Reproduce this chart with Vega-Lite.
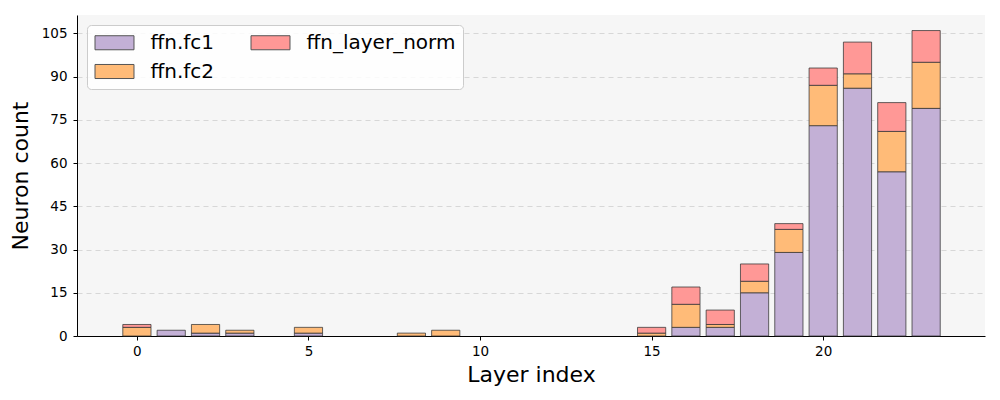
{
  "$schema": "https://vega.github.io/schema/vega-lite/v6.json",
  "autosize": {"type": "none"},
  "width": 908,
  "height": 321,
  "padding": {"left": 77, "top": 15, "right": 15, "bottom": 64},
  "background": "white",
  "config": {
    "font": "DejaVu Sans",
    "view": {"fill": "#f6f6f6", "stroke": null}
  },
  "data": {
    "values": [
      {"layer": 0, "module": "ffn.fc1", "count": 0},
      {"layer": 0, "module": "ffn.fc2", "count": 3},
      {"layer": 0, "module": "ffn_layer_norm", "count": 1},
      {"layer": 1, "module": "ffn.fc1", "count": 2},
      {"layer": 1, "module": "ffn.fc2", "count": 0},
      {"layer": 1, "module": "ffn_layer_norm", "count": 0},
      {"layer": 2, "module": "ffn.fc1", "count": 1},
      {"layer": 2, "module": "ffn.fc2", "count": 3},
      {"layer": 2, "module": "ffn_layer_norm", "count": 0},
      {"layer": 3, "module": "ffn.fc1", "count": 1},
      {"layer": 3, "module": "ffn.fc2", "count": 1},
      {"layer": 3, "module": "ffn_layer_norm", "count": 0},
      {"layer": 5, "module": "ffn.fc1", "count": 1},
      {"layer": 5, "module": "ffn.fc2", "count": 2},
      {"layer": 5, "module": "ffn_layer_norm", "count": 0},
      {"layer": 8, "module": "ffn.fc1", "count": 0},
      {"layer": 8, "module": "ffn.fc2", "count": 1},
      {"layer": 8, "module": "ffn_layer_norm", "count": 0},
      {"layer": 9, "module": "ffn.fc1", "count": 0},
      {"layer": 9, "module": "ffn.fc2", "count": 2},
      {"layer": 9, "module": "ffn_layer_norm", "count": 0},
      {"layer": 15, "module": "ffn.fc1", "count": 0},
      {"layer": 15, "module": "ffn.fc2", "count": 1},
      {"layer": 15, "module": "ffn_layer_norm", "count": 2},
      {"layer": 16, "module": "ffn.fc1", "count": 3},
      {"layer": 16, "module": "ffn.fc2", "count": 8},
      {"layer": 16, "module": "ffn_layer_norm", "count": 6},
      {"layer": 17, "module": "ffn.fc1", "count": 3},
      {"layer": 17, "module": "ffn.fc2", "count": 1},
      {"layer": 17, "module": "ffn_layer_norm", "count": 5},
      {"layer": 18, "module": "ffn.fc1", "count": 15},
      {"layer": 18, "module": "ffn.fc2", "count": 4},
      {"layer": 18, "module": "ffn_layer_norm", "count": 6},
      {"layer": 19, "module": "ffn.fc1", "count": 29},
      {"layer": 19, "module": "ffn.fc2", "count": 8},
      {"layer": 19, "module": "ffn_layer_norm", "count": 2},
      {"layer": 20, "module": "ffn.fc1", "count": 73},
      {"layer": 20, "module": "ffn.fc2", "count": 14},
      {"layer": 20, "module": "ffn_layer_norm", "count": 6},
      {"layer": 21, "module": "ffn.fc1", "count": 86},
      {"layer": 21, "module": "ffn.fc2", "count": 5},
      {"layer": 21, "module": "ffn_layer_norm", "count": 11},
      {"layer": 22, "module": "ffn.fc1", "count": 57},
      {"layer": 22, "module": "ffn.fc2", "count": 14},
      {"layer": 22, "module": "ffn_layer_norm", "count": 10},
      {"layer": 23, "module": "ffn.fc1", "count": 79},
      {"layer": 23, "module": "ffn.fc2", "count": 16},
      {"layer": 23, "module": "ffn_layer_norm", "count": 11}
    ]
  },
  "transform": [{"filter": "datum.count > 0"}],
  "mark": {"type": "bar", "size": 28.2, "stroke": "#333333", "strokeOpacity": 0.75, "strokeWidth": 1, "fillOpacity": 1},
  "encoding": {
    "x": {
      "field": "layer", "type": "quantitative",
      "scale": {"domain": [-1.6, 24.57], "nice": false, "zero": false},
      "axis": {
        "title": "Layer index", "values": [0, 5, 10, 15, 20],
        "grid": false, "domainColor": "black", "tickColor": "black",
        "tickSize": 4, "labelFontSize": 13.5, "labelColor": "black", "labelPadding": 4,
        "titleFontSize": 22, "titleFontWeight": "normal", "titleColor": "black", "titlePadding": 7
      }
    },
    "y": {
      "field": "count", "type": "quantitative", "stack": "zero",
      "scale": {"domain": [0, 111.4], "nice": false},
      "axis": {
        "title": "Neuron count", "values": [0, 15, 30, 45, 60, 75, 90, 105],
        "grid": true, "gridDash": [5, 4], "gridColor": "#cfcfcf", "gridWidth": 0.8,
        "domainColor": "black", "tickColor": "black", "tickSize": 4,
        "labelFontSize": 13.5, "labelColor": "black", "labelPadding": 6,
        "titleFontSize": 22, "titleFontWeight": "normal", "titleColor": "black", "titlePadding": 9
      }
    },
    "color": {
      "field": "module", "type": "nominal",
      "scale": {"domain": ["ffn.fc1", "ffn.fc2", "ffn_layer_norm"], "range": ["#c3b0d6", "#ffbb78", "#ff9896"]},
      "legend": {
        "title": null, "orient": "none", "legendX": 10, "legendY": 10,
        "columns": 2,
        "symbolType": "M-2,-0.72H2V0.72H-2Z", "symbolSize": 380, "symbolOffset": 10,
        "symbolStrokeColor": "#555555", "symbolStrokeWidth": 1,
        "labelFontSize": 20, "labelColor": "black", "labelOffset": 25.5,
        "rowPadding": 8, "columnPadding": 34, "padding": 7,
        "fillColor": "rgba(255,255,255,0.85)", "strokeColor": "#cccccc", "cornerRadius": 4
      }
    },
    "order": {"field": "module", "sort": "ascending"}
  }
}
